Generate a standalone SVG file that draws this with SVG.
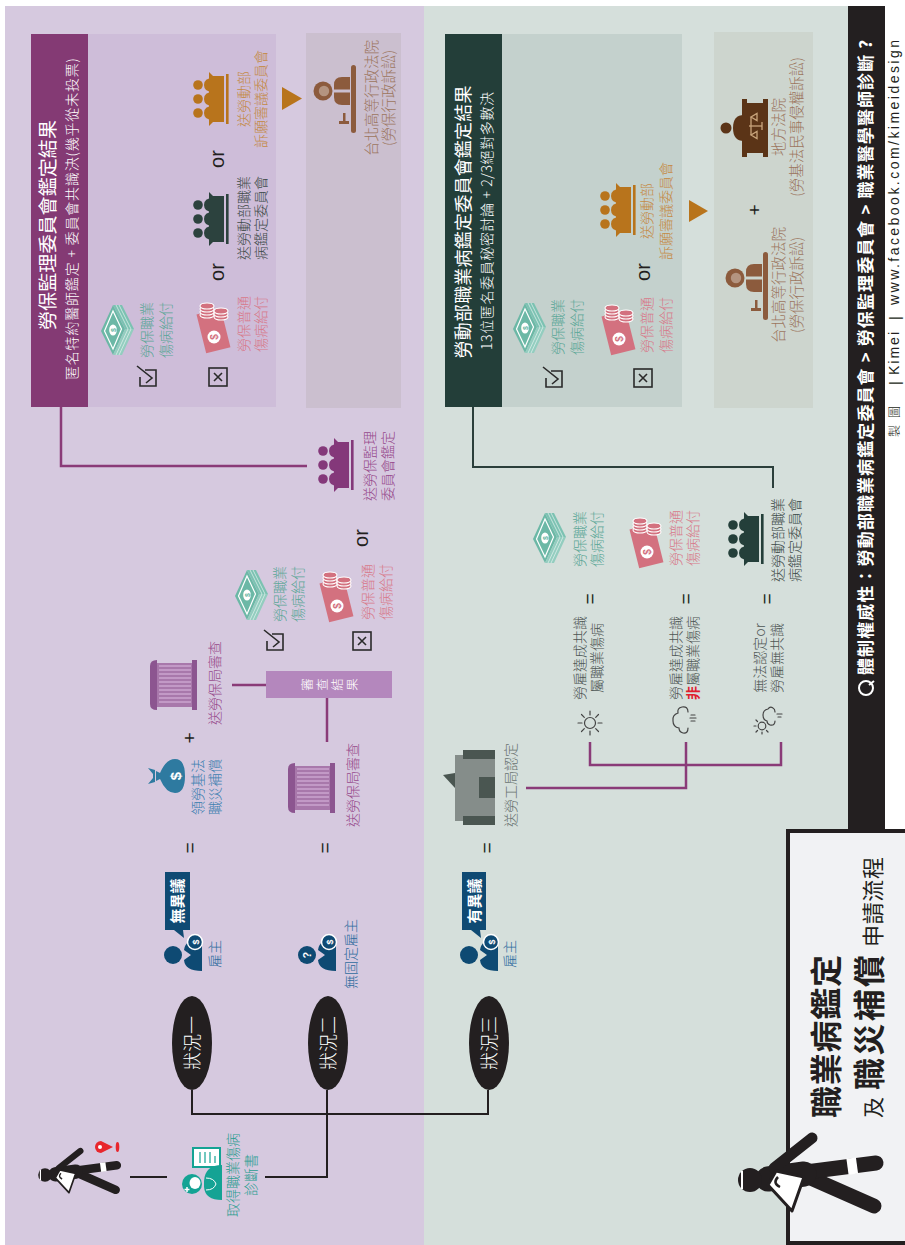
<svg xmlns="http://www.w3.org/2000/svg" width="905" height="1245" viewBox="0 0 905 1245">
<defs>
<style>
  text{font-family:"Noto Sans CJK TC","Noto Sans CJK SC",sans-serif;font-weight:300}
  .lat{font-family:"Liberation Sans","Noto Sans CJK TC",sans-serif}
  .b{font-weight:700}
  .r{font-weight:400}
  .c{text-anchor:middle}
  .s14{font-size:14px}
  .teal{fill:#5ba797}
  .pink{fill:#d8798a}
  .dk{fill:#3e4b49}
  .org{fill:#c48a45}
  .brn{fill:#9c765e}
  .pur{fill:#974a8c}
  .gry{fill:#4e5654}
  .blu{fill:#2f6c9e}
  .or{font-family:"Liberation Sans",sans-serif;font-size:20px;fill:#231f20;text-anchor:middle;font-weight:400}
  .eq{font-family:"Liberation Sans",sans-serif;font-size:19px;fill:#231f20;text-anchor:middle;font-weight:400}
  .box{fill:none;stroke:#2a2a2a;stroke-width:1.6}
  .pl{fill:none;stroke:#8a3b78;stroke-width:2.5}
  .dl{fill:none;stroke:#231f20;stroke-width:2}
  .gl{fill:none;stroke:#2b3f3b;stroke-width:2}
  .wx{fill:none;stroke:#444;stroke-width:1.2;stroke-linecap:round}
</style>

<!-- stack of banknotes -->
<g id="bills">
  <polygon points="0,15 24,3 50,15 26,27" fill="#6cb8a6"/>
  <polygon points="0,15 26,27 26,36 0,24" fill="#93cdbf"/>
  <polygon points="26,27 50,15 50,24 26,36" fill="#7cc2b2"/>
  <polyline points="0,18 26,30 50,18" fill="none" stroke="#e6f4f0" stroke-width="0.7"/>
  <polyline points="0,21 26,33 50,21" fill="none" stroke="#e6f4f0" stroke-width="0.7"/>
  <polygon points="6,15 24,6.5 44,15 26,23.5" fill="none" stroke="#fff" stroke-width="1.2"/>
  <ellipse cx="25" cy="15" rx="5.5" ry="3.8" fill="#fff"/>
  <text x="25" y="18" font-size="7" fill="#6cb8a6" text-anchor="middle" class="lat b">$</text>
</g>

<!-- banknote with coins -->
<g id="cash">
  <rect x="2" y="4" width="40" height="25" fill="#d3717f" transform="rotate(-14 22 16)"/>
  <circle cx="16" cy="17" r="6.5" fill="#fff"/>
  <text x="16" y="21" font-size="10" fill="#d3717f" text-anchor="middle" class="lat b">$</text>
  <g fill="#d3717f" stroke="#fff" stroke-width="1.1">
    <ellipse cx="38" cy="10" rx="3" ry="7"/>
    <ellipse cx="41" cy="10" rx="3" ry="7"/>
    <ellipse cx="44" cy="10" rx="3" ry="7"/>
    <ellipse cx="47" cy="10" rx="3" ry="7"/>
    <ellipse cx="36" cy="24" rx="3" ry="7"/>
    <ellipse cx="39" cy="24" rx="3" ry="7"/>
    <ellipse cx="42" cy="24" rx="3" ry="7"/>
  </g>
</g>

<!-- committee: three members behind a table -->
<g id="cmte">
  <circle cx="14" cy="5" r="4.8"/>
  <circle cx="28" cy="5" r="4.8"/>
  <circle cx="42" cy="5" r="4.8"/>
  <path d="M7,20 Q7,11 14,11 Q21,11 21,20 Z"/>
  <path d="M21,20 Q21,11 28,11 Q35,11 35,20 Z"/>
  <path d="M35,20 Q35,11 42,11 Q49,11 49,20 Z"/>
  <path d="M1,16 L55,16 L51,20 L51,31 L5,31 L5,20 Z"/>
  <rect x="3" y="33" width="50" height="2.6"/>
</g>

<!-- judge at a bench -->
<g id="judge">
  <rect x="0" y="38" width="68" height="5" rx="2.5"/>
  <path d="M28,37 L28,29 Q28,21 36,21 L40.5,21 L40.5,37 Z"/>
  <path d="M43.5,37 L43.5,21 L48,21 Q56,21 56,29 L56,37 Z"/>
  <circle cx="42" cy="10" r="9.5"/>
  <circle cx="42" cy="11" r="5.2" fill="#fff" fill-opacity="0.35"/>
  <rect x="9" y="26" width="3" height="10"/>
  <rect x="12" y="30" width="8" height="2.5"/>
</g>

<!-- district court desk with scales -->
<g id="district">
  <circle cx="29" cy="6" r="5.5"/>
  <path d="M16,24 Q16,13 29,13 Q42,13 42,24 Z"/>
  <rect x="0" y="22" width="58" height="5"/>
  <rect x="4" y="27" width="50" height="17"/>
  <rect x="0" y="43" width="58" height="5"/>
  <g fill="none" stroke="#c9a57c" stroke-width="1.3">
    <line x1="31" y1="29" x2="31" y2="42"/>
    <line x1="22" y1="31" x2="40" y2="31"/>
    <path d="M22,31 L18.5,37 L25.5,37 Z"/>
    <path d="M40,31 L36.5,37 L43.5,37 Z"/>
    <line x1="27" y1="42" x2="35" y2="42"/>
  </g>
</g>

<!-- bureau building -->
<g id="bldg">
  <path d="M0,7 Q0,0 6,0 L44,0 Q50,0 50,7 Z" fill="#8c5590"/>
  <rect x="3" y="7" width="44" height="36" fill="#a878ab"/>
  <g stroke="#c9a2cd" stroke-width="1.6">
    <line x1="8" y1="9" x2="8" y2="41"/><line x1="12" y1="9" x2="12" y2="41"/>
    <line x1="16" y1="9" x2="16" y2="41"/><line x1="20" y1="9" x2="20" y2="41"/>
    <line x1="24" y1="9" x2="24" y2="41"/><line x1="28" y1="9" x2="28" y2="41"/>
    <line x1="32" y1="9" x2="32" y2="41"/><line x1="36" y1="9" x2="36" y2="41"/>
    <line x1="40" y1="9" x2="40" y2="41"/><line x1="44" y1="9" x2="44" y2="41"/>
  </g>
  <rect x="0" y="42" width="50" height="5" fill="#8c5590"/>
</g>

<!-- employer with coin -->
<g id="emp">
  <circle cx="17" cy="9" r="9"/>
  <path d="M1,38 Q1,21 12,20 L17,27 L22,20 Q33,21 33,38 Z"/>
  <circle cx="30" cy="31" r="7.5" stroke="#fff" stroke-width="1.5"/>
  <text x="30" y="34.5" font-size="9" fill="#fff" text-anchor="middle" class="lat b">$</text>
</g>

<!-- tick and cross boxes -->
<g id="chk" class="box">
  <path d="M17,8 L17,19 L1,19 L1,3 L10,3"/>
  <path d="M4,9 L9,15 L21,0"/>
</g>
<g id="crs" class="box">
  <rect x="1" y="1" width="18" height="18"/>
  <path d="M6,6 L14,14 M14,6 L6,14"/>
</g>

<!-- walking worker pictogram, head centred on origin -->
<g id="walker">
  <line x1="4" y1="56" x2="-26" y2="124" stroke="#231f20" stroke-width="15" stroke-linecap="round"/>
  <line x1="8" y1="56" x2="17" y2="126" stroke="#231f20" stroke-width="15" stroke-linecap="round"/>
  <line x1="13.2" y1="97.5" x2="14.5" y2="107" stroke="#fff" stroke-width="16"/>
  <line x1="1" y1="18" x2="6" y2="54" stroke="#231f20" stroke-width="25" stroke-linecap="round"/>
  <line x1="12" y1="24" x2="42" y2="62" stroke="#231f20" stroke-width="11" stroke-linecap="round"/>
  <path d="M-5,18 L9,26 L3,54 L-31,42 Z" fill="#fff" stroke="#231f20" stroke-width="3" stroke-linejoin="round"/>
  <path d="M-7,30 q4,-8 10,-2" fill="none" stroke="#231f20" stroke-width="2.5"/>
  <circle cx="0" cy="0" r="12" fill="#231f20"/>
  <line x1="-9" y1="-8" x2="9" y2="-8" stroke="#fff" stroke-width="2"/>
</g>
</defs>

<!-- the whole chart is laid out left-to-right and turned a quarter turn -->
<g transform="translate(0,1245) rotate(-90)">

  <!-- backgrounds -->
  <rect x="0" y="0" width="1245" height="905" fill="#fff"/>
  <rect x="0" y="5" width="1239" height="419" fill="#d6c9df"/>
  <rect x="0" y="424" width="1239" height="424" fill="#d5dfdb"/>
  <rect x="415" y="848" width="824" height="37" fill="#231f20"/>

  <!-- connectors -->
  <g id="connectors">
    <line class="dl" x1="68" y1="130" x2="68" y2="167"/>
    <polyline class="dl" points="68,265 68,327 155,327"/>
    <polyline class="dl" points="155,192 131,192 131,488 155,488"/>
    <line class="pl" x1="560" y1="232" x2="560" y2="266"/>
    <line class="pl" x1="547" y1="327" x2="503" y2="327"/>
    <polyline class="pl" points="838,61 779,61 779,307"/>
    <polyline class="pl" points="457,526 457,686 503,686"/>
    <polyline class="pl" points="503,590 480,590 480,781 503,781"/>
    <polyline class="gl" points="838,473 778,473 778,773 757,773"/>
  </g>

  <!-- start: injured worker -->
  <g id="node-worker">
    <use href="#walker" transform="translate(70,45) scale(0.57)"/>
    <path d="M92,101 A6,6 0 1 1 104,101 L98,113 Z" fill="#e8262d"/>
    <circle cx="98" cy="100" r="2" fill="#fff"/>
    <ellipse cx="98" cy="117.5" rx="5" ry="1.8" fill="#e8262d"/>
  </g>

  <g id="node-diagnosis">
    <rect x="78" y="193" width="19" height="27" fill="#fff" stroke="#14a394" stroke-width="2"/>
    <g stroke="#14a394" stroke-width="1.2">
      <line x1="82" y1="200" x2="93" y2="200"/><line x1="82" y1="205" x2="93" y2="205"/>
      <line x1="82" y1="210" x2="93" y2="210"/><line x1="82" y1="215" x2="89" y2="215"/>
    </g>
    <path d="M45,222 Q45,205 58,204 L64,204 Q80,205 80,222 Z" fill="#14a394"/>
    <path d="M55,206 Q55,214 61,216 Q67,214 67,206" fill="none" stroke="#fff" stroke-width="1"/>
    <circle cx="61" cy="192" r="10" fill="#14a394"/>
    <ellipse cx="62" cy="195" rx="6" ry="5.5" fill="#fff"/>
    <path d="M53,187 h5 M55.5,184.5 v5" stroke="#fff" stroke-width="1.5"/>
    <text x="70" y="238" class="c s14" fill="#2a9d8f">取得職業傷病</text>
    <text x="70" y="256" class="c s14" fill="#2a9d8f">診斷書</text>
  </g>

  <!-- three situations -->
  <g id="node-case1">
    <ellipse cx="202" cy="192" rx="47" ry="20" fill="#231f20"/>
    <text x="202" y="198.5" class="c" font-size="18" fill="#fff">狀況一</text>
  </g>
  <g id="node-case2">
    <ellipse cx="202" cy="328" rx="47" ry="20" fill="#231f20"/>
    <text x="202" y="334.5" class="c" font-size="18" fill="#fff">狀況二</text>
  </g>
  <g id="node-case3">
    <ellipse cx="202" cy="489" rx="47" ry="20" fill="#231f20"/>
    <text x="202" y="495.5" class="c" font-size="18" fill="#fff">狀況三</text>
  </g>

  <!-- employers -->
  <g id="node-employer1">
    <use href="#emp" x="273" y="164" fill="#0e4a73"/>
    <text x="291" y="220" class="c s14 blu">雇主</text>
    <rect x="315" y="165" width="58" height="25" fill="#0f4a73"/>
    <polygon points="315,174 315,183 307,184" fill="#0f4a73"/>
    <text x="344" y="183" class="c b" font-size="15" fill="#fff">無異議</text>
  </g>
  <g id="node-employer2">
    <use href="#emp" x="273" y="298" fill="#0e4a73"/>
    <text x="290" y="311" class="c lat b" font-size="11" fill="#fff">?</text>
    <text x="291" y="356" class="c s14 blu">無固定雇主</text>
  </g>
  <g id="node-employer3">
    <use href="#emp" x="273" y="460" fill="#0e4a73"/>
    <text x="291" y="515" class="c s14 blu">雇主</text>
    <rect x="315" y="462" width="58" height="24" fill="#0f4a73"/>
    <polygon points="315,471 315,480 307,481" fill="#0f4a73"/>
    <text x="344" y="479.5" class="c b" font-size="15" fill="#fff">有異議</text>
  </g>

  <g id="node-equals">
    <text x="397" y="196" class="eq">=</text>
    <text x="397" y="331" class="eq">=</text>
    <text x="397" y="493" class="eq">=</text>
  </g>

  <!-- situation 1 outcome -->
  <g id="node-compensation">
    <g fill="#2e7aa0">
      <path d="M461,148 L467,153 L471,153 L477,148 L475,155 L463,155 Z"/>
      <path d="M464,156 L474,156 L472,160 Q486,166 486,175 Q486,185 469,185 Q452,185 452,175 Q452,166 466,160 Z"/>
    </g>
    <text x="469" y="181" class="c lat b" font-size="15" fill="#fff">$</text>
    <text x="458" y="203" class="c s14" fill="#3d80b0">領勞基法</text>
    <text x="458" y="220" class="c s14" fill="#3d80b0">職災補償</text>
    <text x="507" y="196" class="eq">+</text>
  </g>
  <g id="node-bli-review1">
    <use href="#bldg" x="535" y="150"/>
    <text x="562" y="220" class="c s14 pur">送勞保局審查</text>
  </g>
  <g id="node-bli-review2">
    <use href="#bldg" x="432" y="288"/>
    <text x="460" y="358" class="c s14 pur">送勞保局審查</text>
  </g>

  <g id="node-review-result">
    <rect x="547" y="266" width="27" height="126" fill="#b487bd"/>
    <g class="c" font-size="12.5" fill="#fff">
      <text x="560.5" y="312">審</text>
      <text x="560.5" y="327">查</text>
      <text x="560.5" y="342">結</text>
      <text x="560.5" y="357">果</text>
    </g>
  </g>

  <g id="node-review-pay">
    <use href="#chk" x="594" y="264"/>
    <use href="#bills" x="625" y="232"/>
    <text x="651" y="285" class="c s14 teal">勞保職業</text>
    <text x="651" y="303" class="c s14 teal">傷病給付</text>
    <use href="#crs" x="594" y="352"/>
    <use href="#cash" x="623" y="320"/>
    <text x="653" y="373" class="c s14 pink">勞保普通</text>
    <text x="653" y="391" class="c s14 pink">傷病給付</text>
    <text x="707" y="368" class="or">or</text>
  </g>

  <g id="node-blb-committee">
    <use href="#cmte" x="752" y="318" fill="#84387a"/>
    <text x="779" y="375" class="c s14 pur">送勞保監理</text>
    <text x="779" y="393" class="c s14 pur">委員會鑑定</text>
  </g>

  <!-- labour supervision committee result -->
  <g id="node-blb-result">
    <rect x="838" y="31" width="373" height="57" fill="#843a74"/>
    <rect x="838" y="88" width="373" height="188" fill="#cebdd9"/>
    <text x="1020" y="55" class="c r" font-size="19" fill="#fff" textLength="210">勞保監理委員會鑑定結果</text>
    <text x="1026" y="77" class="c" font-size="14" fill="#fff" textLength="322">匿名特約醫師鑑定 + 委員會共識決(幾乎從未投票)</text>
    <use href="#chk" x="858" y="137"/>
    <use href="#bills" x="890" y="98"/>
    <text x="915" y="152" class="c s14 teal">勞保職業</text>
    <text x="915" y="171" class="c s14 teal">傷病給付</text>
    <use href="#crs" x="858" y="208"/>
    <use href="#cash" x="892" y="197"/>
    <text x="921" y="249" class="c s14 pink">勞保普通</text>
    <text x="921" y="266" class="c s14 pink">傷病給付</text>
    <text x="973" y="224" class="or">or</text>
    <use href="#cmte" x="998" y="193" fill="#2c423e"/>
    <text x="1027" y="249" class="c s14 dk">送勞動部職業</text>
    <text x="1027" y="266" class="c s14 dk">病鑑定委員會</text>
    <text x="1086" y="224" class="or">or</text>
    <use href="#cmte" x="1118" y="193" fill="#b8741c"/>
    <text x="1146" y="249" class="c s14 org">送勞動部</text>
    <text x="1146" y="266" class="c s14 org">訴願審議委員會</text>
    <polygon points="1135,282 1158,282 1146.5,302" fill="#b8741c"/>
  </g>
  <g id="node-blb-court">
    <rect x="837" y="306" width="375" height="95" fill="#cbbfcf"/>
    <use href="#judge" x="1112" y="313" fill="#8c5b3d"/>
    <text x="1147" y="377" class="c" font-size="14.5" fill="#9c765e">台北高等行政法院</text>
    <text x="1147" y="394" class="c" font-size="14.5" fill="#9c765e">(勞保行政訴訟)</text>
  </g>

  <!-- situation 3 -->
  <g id="node-labour-bureau">
    <polygon points="457,455 470,443 472,455" fill="#4a5651"/>
    <rect x="424" y="455" width="66" height="8" fill="#858d8a"/>
    <rect x="427" y="463" width="61" height="32" fill="#858d8a"/>
    <rect x="420" y="463" width="9" height="32" fill="#4a5651"/>
    <rect x="486" y="463" width="9" height="32" fill="#4a5651"/>
    <rect x="447" y="479" width="21" height="16" fill="#4a5651"/>
    <text x="460" y="516" class="c s14" fill="#687270">送勞工局認定</text>
  </g>

  <g id="node-weather">
    <g class="wx" transform="translate(522,590)">
      <circle r="5.5"/>
      <path d="M8,0 H12 M-8,0 H-12 M0,8 V12 M0,-8 V-12 M5.7,5.7 L8.5,8.5 M-5.7,-5.7 L-8.5,-8.5 M5.7,-5.7 L8.5,-8.5 M-5.7,5.7 L-8.5,8.5"/>
    </g>
    <g class="wx" transform="translate(525,683)">
      <path d="M-8,5 Q-14,5 -13,0 Q-12,-4 -8,-4 Q-7,-10 -1,-10 Q5,-11 7,-5 Q12,-6 13,-1 Q14,5 8,5"/>
      <path d="M-1,8 V12 M2,7 V13 M5,8 V12"/>
    </g>
    <g class="wx" transform="translate(525,768)">
      <circle cx="-6" cy="-6" r="3.8"/>
      <path d="M-12,-6 H-14 M-6,-12 V-14 M-10.5,-10.5 L-12,-12 M-1.5,-10.5 L0,-12 M-10.5,-1.5 L-12,0"/>
      <path d="M-1,7 Q-6,7 -5,2 Q-4,-1 -1,-1 Q0,-5 5,-5 Q10,-5 11,0 Q14,2 12,5 Q11,7 8,7"/>
      <path d="M3,10 V13 M6,9 V14"/>
    </g>
  </g>

  <g id="node-outcomes">
    <text x="587" y="585" class="c s14 gry">勞雇達成共識</text>
    <text x="587" y="602" class="c s14 gry">屬職業傷病</text>
    <text x="646" y="596" class="eq">=</text>
    <use href="#bills" x="682" y="530"/>
    <text x="706" y="585" class="c s14 teal">勞保職業</text>
    <text x="706" y="602" class="c s14 teal">傷病給付</text>

    <text x="587" y="681" class="c s14 gry">勞雇達成共識</text>
    <text x="587" y="698" class="c s14 gry"><tspan fill="#e0202e" font-weight="700">非</tspan>屬職業傷病</text>
    <text x="646" y="692" class="eq">=</text>
    <use href="#cash" x="677" y="630"/>
    <text x="707" y="681" class="c s14 pink">勞保普通</text>
    <text x="707" y="698" class="c s14 pink">傷病給付</text>

    <text x="587" y="765" class="c s14 gry">無法認定or</text>
    <text x="587" y="782" class="c s14 gry">勞雇無共識</text>
    <text x="646" y="773" class="eq">=</text>
  </g>
  <g id="node-moh-committee">
    <use href="#cmte" x="678" y="728" fill="#243f3a"/>
    <text x="705" y="783" class="c s14 dk">送勞動部職業</text>
    <text x="705" y="800" class="c s14 dk">病鑑定委員會</text>
  </g>

  <!-- occupational disease committee result -->
  <g id="node-mol-result">
    <rect x="838" y="445" width="373" height="57" fill="#233e39"/>
    <rect x="838" y="502" width="373" height="180" fill="#c4d1cd"/>
    <text x="1023" y="470" class="c r" font-size="18" fill="#fff" textLength="273">勞動部職業病鑑定委員會鑑定結果</text>
    <text x="1024" y="492" class="c" font-size="14" fill="#fff" textLength="258">13位匿名委員秘密討論 + 2/3絕對多數決</text>
    <use href="#chk" x="857" y="543"/>
    <use href="#bills" x="892" y="510"/>
    <text x="918" y="563" class="c s14 teal">勞保職業</text>
    <text x="918" y="582" class="c s14 teal">傷病給付</text>
    <use href="#crs" x="857" y="633"/>
    <use href="#cash" x="890" y="602"/>
    <text x="920" y="652" class="c s14 pink">勞保普通</text>
    <text x="920" y="671" class="c s14 pink">傷病給付</text>
    <text x="973" y="650" class="or">or</text>
    <use href="#cmte" x="1007" y="600" fill="#b8741c"/>
    <text x="1034" y="652" class="c s14 org">送勞動部</text>
    <text x="1034" y="671" class="c s14 org">訴願審議委員會</text>
    <polygon points="1023,689 1045,689 1034,708" fill="#b8741c"/>
  </g>
  <g id="node-mol-court">
    <rect x="837" y="714" width="376" height="99" fill="#cdd5ce"/>
    <use href="#judge" x="925" y="725" fill="#8c5b3d"/>
    <text x="960" y="784" class="c" font-size="14.5" fill="#9c765e">台北高等行政法院</text>
    <text x="960" y="802" class="c" font-size="14.5" fill="#9c765e">(勞保行政訴訟)</text>
    <text x="1035" y="761" class="eq">+</text>
    <use href="#district" x="1088" y="720" fill="#5b3417"/>
    <text x="1118" y="784" class="c" font-size="14.5" fill="#9c765e">地方法院</text>
    <text x="1118" y="802" class="c" font-size="14.5" fill="#9c765e">(勞基法民事侵權訴訟)</text>
  </g>

  <!-- authority ranking strip and credit -->
  <g id="node-authority">
    <circle cx="557" cy="866" r="7" fill="none" stroke="#fff" stroke-width="2"/>
    <line x1="560" y1="869" x2="564" y2="874" stroke="#fff" stroke-width="2"/>
    <text x="570" y="872" class="b" font-size="17" fill="#fff" textLength="635">體制權威性：勞動部職業病鑑定委員會 &gt; 勞保監理委員會 &gt; 職業醫學醫師診斷 ?</text>
  </g>
  <g id="node-credit" fill="#231f20">
    <text x="808" y="899" font-size="12" letter-spacing="7">製圖</text>
    <text x="860" y="900" class="lat" font-size="14">|</text>
    <text x="870" y="899" class="lat" font-size="14" letter-spacing="2">Kimei</text>
    <text x="925" y="900" class="lat" font-size="14">|</text>
    <text x="940" y="899" class="lat" font-size="14" textLength="265">www.facebook.com/kimeidesign</text>
  </g>

  <!-- title card -->
  <g id="node-title">
    <rect x="2" y="788" width="412" height="120" fill="#f1f2f4" stroke="#231f20" stroke-width="4"/>
    <use href="#walker" transform="translate(65,750)"/>
    <text x="127" y="838" class="b" font-size="32" fill="#231f20" textLength="163">職業病鑑定</text>
    <text x="127" y="881" class="r" font-size="21" fill="#231f20">及</text>
    <text x="155" y="881" class="b" font-size="32" fill="#231f20" textLength="135">職災補償</text>
    <text x="298" y="881" class="r" font-size="22" fill="#231f20" textLength="90">申請流程</text>
  </g>
</g>
</svg>
